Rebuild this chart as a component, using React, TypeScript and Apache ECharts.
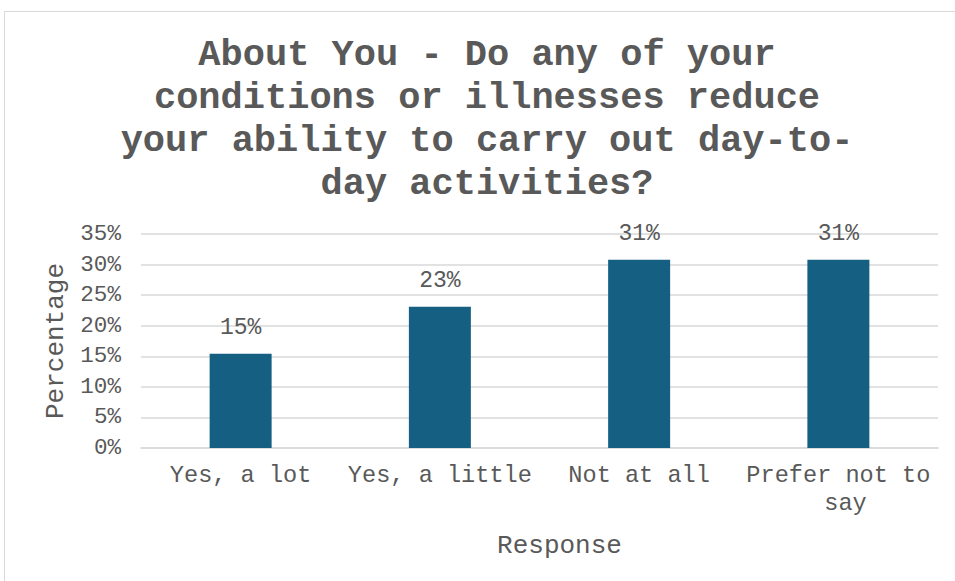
import React, { useEffect, useRef } from "react";
import * as echarts from "echarts";

const titleLines = [
  "About You - Do any of your",
  "conditions or illnesses reduce",
  "your ability to carry out day-to-",
  "day activities?",
];
const categories = ["Yes, a lot", "Yes, a little", "Not at all", "Prefer not to say"];
const values = [15.4, 23.1, 30.8, 30.8];
const yTicks = { min: 0, max: 35, interval: 5 };
const xAxisName = "Response";
const yAxisName = "Percentage";

const FONT = "'Liberation Mono', 'Courier New', monospace";
const GRAY = "#595959";

export default function App() {
  const ref = useRef<HTMLDivElement>(null);
  useEffect(() => {
    if (!ref.current) return;
    const chart = echarts.init(ref.current, undefined, { renderer: "svg" });
    chart.setOption({
      animation: false,
      backgroundColor: "#ffffff",
      graphic: [
        {
          type: "rect",
          shape: { x: 4.5, y: 11.5, width: 1100, height: 1100 },
          style: { fill: "none", stroke: "#d9d9d9", lineWidth: 1 },
          silent: true,
        },
        {
          type: "text",
          x: 487,
          y: 33,
          style: {
            text: titleLines.join("\n"),
            font: `bold 37px ${FONT}`,
            fill: GRAY,
            textAlign: "center",
            textVerticalAlign: "top",
            lineHeight: 43,
          },
        },
      ],
      grid: { left: 141, right: 17, top: 234, bottom: 133 },
      xAxis: {
        type: "category",
        data: categories,
        name: xAxisName,
        nameLocation: "middle",
        nameGap: 85,
        nameTextStyle: { fontFamily: FONT, fontSize: 26, color: GRAY, padding: [0, 0, 0, 40] },
        axisLine: { lineStyle: { color: "#d9d9d9", width: 1.5 } },
        axisTick: { show: false },
        axisLabel: {
          fontFamily: FONT,
          fontSize: 23.6,
          color: GRAY,
          margin: 13,
          lineHeight: 28,
          width: 196,
          overflow: "break",
          interval: 0,
        },
      },
      yAxis: {
        type: "value",
        min: yTicks.min,
        max: yTicks.max,
        interval: yTicks.interval,
        name: yAxisName,
        nameLocation: "middle",
        nameGap: 72,
        nameTextStyle: { fontFamily: FONT, fontSize: 26, color: GRAY },
        axisLine: { show: false },
        axisTick: { show: false },
        axisLabel: {
          formatter: "{value}%",
          fontFamily: FONT,
          fontSize: 22.6,
          color: GRAY,
          margin: 20,
        },
        splitLine: { lineStyle: { color: "#d9d9d9", width: 1.5 } },
      },
      series: [
        {
          type: "bar",
          data: values,
          barWidth: 62,
          itemStyle: { color: "#156082" },
          label: {
            show: true,
            position: "top",
            distance: 14,
            formatter: (p: any) => Math.round(p.value) + "%",
            fontFamily: FONT,
            fontSize: 23,
            color: GRAY,
          },
        },
      ],
    });
    return () => chart.dispose();
  }, []);
  return (
    <div
      ref={ref}
      style={{ position: "fixed", left: 0, top: 0, width: 955, height: 581 }}
    />
  );
}
